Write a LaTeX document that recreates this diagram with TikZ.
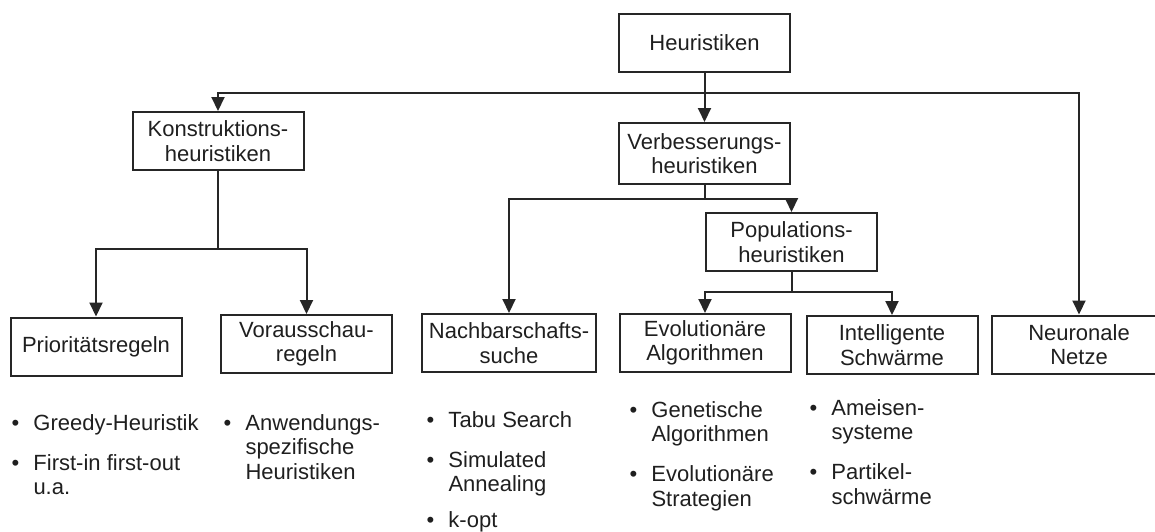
\documentclass[tikz,border=0pt]{standalone}
\usepackage{fontspec}
\setmainfont{Liberation Sans}
\usetikzlibrary{arrows.meta}
% bullet with a fixed hanging indent, and the indent for continuation lines
\newcommand\itm{\makebox[22pt][l]{\textbullet}}
\newcommand\cont{\hspace*{22pt}}

\begin{document}
\begin{tikzpicture}[x=1pt,y=-1pt,
  box/.style={draw=black!85, line width=2pt, minimum width=171pt, minimum height=58pt,
              inner sep=0pt, align=center, text=black!88,
              font=\fontsize{22}{24.5}\selectfont},
  link/.style={draw=black!85, line width=2pt},
  arr/.style={link, -{Triangle[length=14pt,width=13pt]}},
  list/.style={anchor=base west, inner sep=0pt, text=black!88,
               font=\fontsize{22}{24.5}\selectfont}
]
\useasboundingbox (0,0) rectangle (1155,531);
\clip (0,0) rectangle (1155,531);

% boxes
\node[box] (heu) at (704.5,42.5) {Heuristiken};
\node[box] (kon) at (218,141) {Konstruktions-\\heuristiken};
\node[box, minimum height=61pt] (ver) at (704.5,153.5) {Verbesserungs-\\heuristiken};
\node[box] (pop) at (791.5,242) {Populations-\\heuristiken};
\node[box] (pri) at (96,346.5) {Prioritätsregeln};
\node[box] (vor) at (306.5,344) {Vorausschau-\\regeln};
\node[box, minimum width=174pt] (nach) at (509,343) {Nachbarschafts-\\suche};
\node[box] (evo) at (705,343) {Evolutionäre\\Algorithmen};
\node[box] (int) at (892,345) {Intelligente\\Schwärme};
\node[box, minimum width=174pt] (neu) at (1079,344.5) {Neuronale\\Netze};

% branching points
\coordinate (j0) at (704.5,93);
\coordinate (j1) at (218,249);
\coordinate (j2) at (704.5,199);
\coordinate (j3) at (791.5,292);

% connectors
\draw[arr] (heu.south) -- (ver.north);
\draw[arr] (j0) -| (kon.north);
\draw[arr] (j0) -| (neu.north);
\draw[link] (kon.south) -- (j1);
\draw[arr] (j1) -| (pri.north);
\draw[arr] (j1) -| (vor.north);
\draw[link] (ver.south) -- (j2);
\draw[arr] (j2) -| (nach.north);
\draw[arr] (j2) -| (pop.north);
\draw[link] (pop.south) -- (j3);
\draw[arr] (j3) -| (evo.north);
\draw[arr] (j3) -| (int.north);

% example lists
\node[list] (lpri) at (11.3,430) {\begin{tabular}[t]{@{}l@{}}
  \itm Greedy-Heuristik\\[15.5pt]
  \itm First-in first-out\\
  \cont u.a.\end{tabular}};
\node[list] (lvor) at (223.3,430) {\begin{tabular}[t]{@{}l@{}}
  \itm Anwendungs-\\
  \cont spezifische\\
  \cont Heuristiken\end{tabular}};
\node[list] (lnach) at (426.3,427) {\begin{tabular}[t]{@{}l@{}}
  \itm Tabu Search\\[15.5pt]
  \itm Simulated\\
  \cont Annealing\\[11pt]
  \itm k-opt\end{tabular}};
\node[list] (levo) at (629.3,417) {\begin{tabular}[t]{@{}l@{}}
  \itm Genetische\\
  \cont Algorithmen\\[15.5pt]
  \itm Evolutionäre\\
  \cont Strategien\end{tabular}};
\node[list] (lint) at (809.3,415) {\begin{tabular}[t]{@{}l@{}}
  \itm Ameisen-\\
  \cont systeme\\[15.5pt]
  \itm Partikel-\\
  \cont schwärme\end{tabular}};
\end{tikzpicture}
\end{document}
